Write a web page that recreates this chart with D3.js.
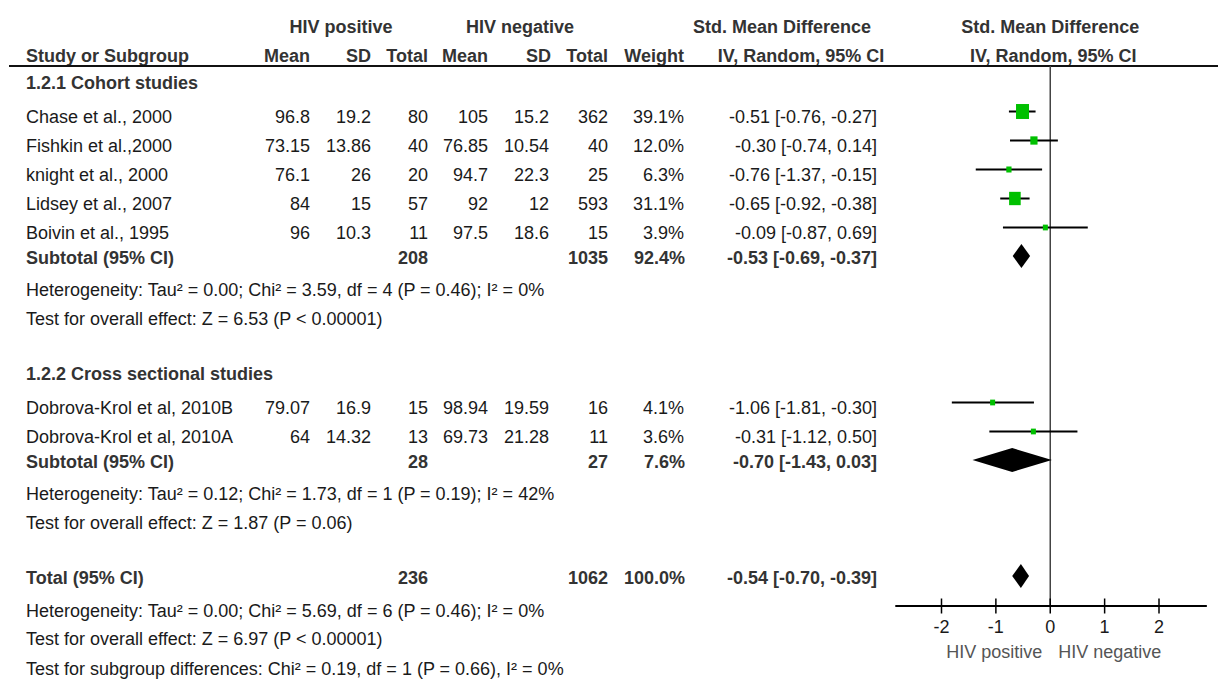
<!DOCTYPE html>
<html>
<head>
<meta charset="utf-8">
<script src="https://cdn.jsdelivr.net/npm/d3@7"></script>
<style>
  html, body { margin: 0; padding: 0; background: #fff; }
  svg text { font-family: "Liberation Sans", Arial, sans-serif; font-size: 18px; }
</style>
</head>
<body>
<div id="chart"></div>
<script>
// forest plot: HIV positive vs HIV negative, std. mean difference (IV, random)

// ── data ────────────────────────────────────────────────────────────────
const studyNames = ['Chase et al., 2000', 'Fishkin et al.,2000', 'knight et al., 2000',
  'Lidsey et al., 2007', 'Boivin et al., 1995', 'Dobrova-Krol et al, 2010B', 'Dobrova-Krol et al, 2010A'];
const studyGroup = [0, 0, 0, 0, 0, 1, 1];
const posMean = [96.8, 73.15, 76.1, 84, 96, 79.07, 64];
const posSD   = [19.2, 13.86, 26, 15, 10.3, 16.9, 14.32];
const posN    = [80, 40, 20, 57, 11, 15, 13];
const negMean = [105, 76.85, 94.7, 92, 97.5, 98.94, 69.73];
const negSD   = [15.2, 10.54, 22.3, 12, 18.6, 19.59, 21.28];
const negN    = [362, 40, 25, 593, 15, 16, 11];
const weights = [39.1, 12.0, 6.3, 31.1, 3.9, 4.1, 3.6];
const smd     = [-0.51, -0.30, -0.76, -0.65, -0.09, -1.06, -0.31];
const ciLow   = [-0.76, -0.74, -1.37, -0.92, -0.87, -1.81, -1.12];
const ciHigh  = [-0.27, 0.14, -0.15, -0.38, 0.69, -0.30, 0.50];

const groupNames  = ['1.2.1 Cohort studies', '1.2.2 Cross sectional studies'];
const subPosN     = [208, 28];
const subNegN     = [1035, 27];
const subWeight   = [92.4, 7.6];
const subSmd      = [-0.53, -0.70];
const subLow      = [-0.69, -1.43];
const subHigh     = [-0.37, 0.03];
const subHetero   = ['Heterogeneity: Tau² = 0.00; Chi² = 3.59, df = 4 (P = 0.46); I² = 0%',
                     'Heterogeneity: Tau² = 0.12; Chi² = 1.73, df = 1 (P = 0.19); I² = 42%'];
const subEffect   = ['Test for overall effect: Z = 6.53 (P < 0.00001)',
                     'Test for overall effect: Z = 1.87 (P = 0.06)'];

const totalPosN = 236, totalNegN = 1062, totalWeight = 100.0;
const totalSmd = -0.54, totalLow = -0.70, totalHigh = -0.39;
const totalNotes = ['Heterogeneity: Tau² = 0.00; Chi² = 5.69, df = 6 (P = 0.46); I² = 0%',
                    'Test for overall effect: Z = 6.97 (P < 0.00001)',
                    'Test for subgroup differences: Chi² = 0.19, df = 1 (P = 0.66), I² = 0%'];

const xTicks = [-2, -1, 0, 1, 2];
const axisLabels = ['HIV positive', 'HIV negative'];

// ── layout ──────────────────────────────────────────────────────────────
const W = 1218, H = 681;
const LEFT = 26;
const COL = { posMean: 310, posSD: 371, posN: 428, negMean: 488, negSD: 549, negN: 608, weight: 684, ci: 877 };
const AXIS_Y = 606, HEADER_LINE = 66;
const DARK = '#1a1a1a', BOLD = '#333';

const x = d3.scaleLinear().domain([-2, 2]).range([941.5, 1159]);
const sizeScale = d3.scaleSqrt().domain([0, 39.1]).range([0, 13]);
const f2 = d3.format('.2f');
const fmtSmd = v => f2(v).replace('−', '-');
const ciText = (m, l, h) => `${fmtSmd(m)} [${fmtSmd(l)}, ${fmtSmd(h)}]`;
const pct = v => v.toFixed(1) + '%';

const svg = d3.select('#chart').append('svg').attr('width', W).attr('height', H);
svg.append('rect').attr('width', W).attr('height', H).attr('fill', '#fff');

function txt(s, px, py, opts = {}) {
  return svg.append('text').attr('x', px).attr('y', py)
    .attr('text-anchor', opts.anchor || 'start')
    .attr('font-weight', opts.bold ? 700 : 400)
    .attr('fill', opts.color || (opts.bold ? BOLD : DARK))
    .text(s);
}

// header
txt('HIV positive', 341, 32.5, { anchor: 'middle', bold: true });
txt('HIV negative', 520, 32.5, { anchor: 'middle', bold: true });
txt('Std. Mean Difference', 782, 32.5, { anchor: 'middle', bold: true });
txt('Std. Mean Difference', x(0), 32.5, { anchor: 'middle', bold: true });
txt('Study or Subgroup', LEFT, 61.5, { bold: true });
[['Mean', COL.posMean], ['SD', COL.posSD], ['Total', COL.posN], ['Mean', COL.negMean],
 ['SD', COL.negSD + 2], ['Total', COL.negN], ['Weight', COL.weight]]
  .forEach(([s, cx]) => txt(s, cx, 61.5, { anchor: 'end', bold: true }));
txt('IV, Random, 95% CI', 801, 61.5, { anchor: 'middle', bold: true });
txt('IV, Random, 95% CI', x(0) + 3, 61.5, { anchor: 'middle', bold: true });
svg.append('line').attr('x1', 9).attr('x2', W).attr('y1', HEADER_LINE).attr('y2', HEADER_LINE)
  .attr('stroke', '#111').attr('stroke-width', 2);

// zero line + axis
svg.append('line').attr('x1', x(0)).attr('x2', x(0)).attr('y1', HEADER_LINE).attr('y2', AXIS_Y)
  .attr('stroke', '#444').attr('stroke-width', 1.5);
svg.append('line').attr('x1', x(-2.85)).attr('x2', x(2.88)).attr('y1', AXIS_Y).attr('y2', AXIS_Y)
  .attr('stroke', '#000').attr('stroke-width', 2);
const tickG = svg.append('g');
tickG.selectAll('line').data(xTicks).join('line')
  .attr('x1', d => x(d)).attr('x2', d => x(d)).attr('y1', AXIS_Y - 7.5).attr('y2', AXIS_Y + 7.5)
  .attr('stroke', '#000').attr('stroke-width', 1.5);
tickG.selectAll('text').data(xTicks).join('text')
  .attr('x', d => x(d)).attr('y', 633).attr('text-anchor', 'middle').attr('fill', DARK)
  .text(d => String(d));
txt(axisLabels[0], x(0) - 8, 658, { anchor: 'end', color: '#555' });
txt(axisLabels[1], x(0) + 8, 658, { color: '#555' });

// rows
function diamond(m, l, h, cy) {
  svg.append('path')
    .attr('d', `M${x(l)},${cy} L${x(m)},${cy - 12} L${x(h)},${cy} L${x(m)},${cy + 12} Z`)
    .attr('fill', '#000');
}

let y = 89;
groupNames.forEach((g, gi) => {
  txt(g, LEFT, y, { bold: true });
  const idx = d3.range(studyNames.length).filter(i => studyGroup[i] === gi);
  idx.forEach((i, k) => {
    y += k === 0 ? 34 : 29;
    txt(studyNames[i], LEFT, y);
    txt(String(posMean[i]), COL.posMean, y, { anchor: 'end' });
    txt(String(posSD[i]), COL.posSD, y, { anchor: 'end' });
    txt(String(posN[i]), COL.posN, y, { anchor: 'end' });
    txt(String(negMean[i]), COL.negMean, y, { anchor: 'end' });
    txt(String(negSD[i]), COL.negSD, y, { anchor: 'end' });
    txt(String(negN[i]), COL.negN, y, { anchor: 'end' });
    txt(pct(weights[i]), COL.weight, y, { anchor: 'end' });
    txt(ciText(smd[i], ciLow[i], ciHigh[i]), COL.ci, y, { anchor: 'end' });
    const cy = y - 11.5;
    svg.append('line').attr('x1', x(ciLow[i])).attr('x2', x(ciHigh[i])).attr('y1', cy).attr('y2', cy)
      .attr('stroke', '#000').attr('stroke-width', 2);
    const s = Math.max(5, sizeScale(weights[i]));
    const sh = s * 1.15;
    svg.append('rect').attr('x', x(smd[i]) - s / 2).attr('y', cy - sh / 2)
      .attr('width', s).attr('height', sh).attr('fill', '#00c000');
  });
  y += 25;
  txt('Subtotal (95% CI)', LEFT, y, { bold: true });
  txt(String(subPosN[gi]), COL.posN, y, { anchor: 'end', bold: true });
  txt(String(subNegN[gi]), COL.negN, y, { anchor: 'end', bold: true });
  txt(pct(subWeight[gi]), COL.weight + 1, y, { anchor: 'end', bold: true });
  txt(ciText(subSmd[gi], subLow[gi], subHigh[gi]), COL.ci, y, { anchor: 'end', bold: true });
  diamond(subSmd[gi], subLow[gi], subHigh[gi], y - 8);
  y += 32;
  txt(subHetero[gi], LEFT, y);
  y += 29;
  txt(subEffect[gi], LEFT, y);
  y += 55;
});

// total
y -= 0;
txt('Total (95% CI)', LEFT, y, { bold: true });
txt(String(totalPosN), COL.posN, y, { anchor: 'end', bold: true });
txt(String(totalNegN), COL.negN, y, { anchor: 'end', bold: true });
txt(pct(totalWeight), COL.weight + 1, y, { anchor: 'end', bold: true });
txt(ciText(totalSmd, totalLow, totalHigh), COL.ci, y, { anchor: 'end', bold: true });
diamond(totalSmd, totalLow, totalHigh, y - 8);
[33, 28, 30].forEach((gap, i) => {
  y += gap;
  txt(totalNotes[i], LEFT, y);
});
</script>
</body>
</html>
